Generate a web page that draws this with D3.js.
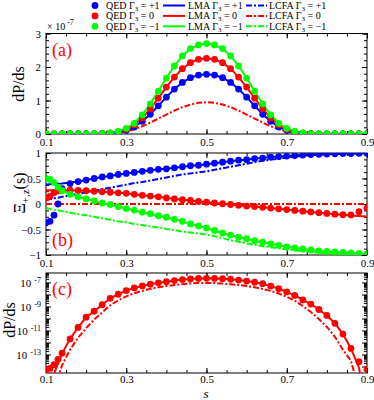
<!DOCTYPE html>
<html>
<head>
<meta charset="utf-8">
<script src="https://cdn.jsdelivr.net/npm/d3@7"></script>
<style>
body{margin:0;background:#fff}
svg{display:block}
svg text{font-family:"Liberation Serif","DejaVu Serif",serif !important}
</style>
</head>
<body>
<script>
// s values of the curve nodes (and of the QED samples in panel a)
const sVals = [0.10,0.12,0.14,0.16,0.18,0.20,0.22,0.24,0.26,0.28,0.30,0.32,0.34,0.36,0.38,0.40,0.42,0.44,0.46,0.48,0.50,
  0.52,0.54,0.56,0.58,0.60,0.62,0.64,0.66,0.68,0.70,0.72,0.74,0.76,0.78,0.80,0.82,0.84,0.86,0.88,0.90];
// QED samples in panels b and c are denser near s = 0.1
const qedS = [0.10,0.11,0.12,0.13,0.14,0.16,0.18,0.20,0.22,0.24,0.26,0.28,0.30,0.32,0.34,0.36,0.38,0.40,0.42,0.44,0.46,0.48,0.50,
  0.52,0.54,0.56,0.58,0.60,0.62,0.64,0.66,0.68,0.70,0.72,0.74,0.76,0.78,0.80,0.82,0.84,0.86,0.88,0.90];

// panel (a): dP/ds in units of 1e-7
const aBlue  = [0,0,0,0,0,0.001,0.003,0.009,0.022,0.051,0.11,0.21,0.38,0.59,0.84,1.10,1.34,1.54,1.68,1.76,1.78,
  1.76,1.68,1.54,1.34,1.10,0.84,0.59,0.38,0.21,0.11,0.051,0.022,0.009,0.003,0.001,0,0,0,0,0];
const aRed   = [0,0,0,0,0,0.001,0.004,0.011,0.028,0.065,0.14,0.27,0.48,0.75,1.07,1.40,1.70,1.95,2.13,2.23,2.26,
  2.23,2.13,1.95,1.70,1.40,1.07,0.75,0.48,0.27,0.14,0.065,0.028,0.011,0.004,0.001,0,0,0,0,0];
const aGreen = [0,0,0,0,0,0.001,0.005,0.013,0.033,0.078,0.17,0.32,0.57,0.90,1.28,1.67,2.03,2.33,2.55,2.66,2.70,
  2.66,2.55,2.33,2.03,1.67,1.28,0.90,0.57,0.32,0.17,0.078,0.033,0.013,0.005,0.001,0,0,0,0,0];
const aLcfa  = [0,0,0,0,0,0,0.001,0.004,0.013,0.035,0.075,0.14,0.23,0.34,0.46,0.58,0.70,0.80,0.88,0.93,0.95,
  0.93,0.88,0.80,0.70,0.58,0.46,0.34,0.23,0.14,0.075,0.035,0.013,0.004,0.001,0,0,0,0,0,0];

// panel (b): Xi_{+,z}(s); QED on qedS, LMA / LCFA on sVals
const bBlueQed = [-0.37,-0.34,-0.22,0.0,0.30,0.40,0.44,0.47,0.50,0.53,0.55,0.58,0.60,0.62,0.64,0.66,0.68,0.69,0.71,0.73,0.75,0.76,0.78,
  0.80,0.82,0.84,0.86,0.87,0.89,0.90,0.92,0.93,0.94,0.95,0.96,0.97,0.975,0.98,0.985,0.99,0.99,0.995,0.995];
const bBlueLma = [0.38,0.39,0.40,0.42,0.44,0.47,0.50,0.53,0.55,0.58,0.60,0.62,0.64,0.66,0.68,0.69,0.71,0.73,0.75,0.76,0.78,
  0.80,0.82,0.84,0.86,0.87,0.89,0.90,0.92,0.93,0.94,0.95,0.96,0.97,0.975,0.98,0.985,0.99,0.99,0.995,0.995];
const bBlueLcfa = [0.08,0.11,0.14,0.17,0.20,0.23,0.26,0.29,0.32,0.35,0.38,0.41,0.43,0.46,0.49,0.52,0.55,0.58,0.60,0.62,0.64,
  0.67,0.70,0.73,0.76,0.79,0.82,0.85,0.87,0.89,0.91,0.93,0.945,0.955,0.965,0.975,0.98,0.985,0.99,0.99,0.995];
const bRedQed = [0.12,0.15,0.22,0.26,0.27,0.27,0.265,0.26,0.25,0.24,0.23,0.22,0.21,0.19,0.17,0.155,0.14,0.12,0.10,0.085,0.07,0.05,0.035,
  0.02,0.005,-0.01,-0.025,-0.04,-0.05,-0.065,-0.08,-0.095,-0.11,-0.125,-0.14,-0.155,-0.17,-0.185,-0.20,-0.21,-0.215,-0.15,-0.08];
const bRedLma = [0.27,0.27,0.27,0.27,0.265,0.26,0.25,0.24,0.23,0.22,0.21,0.19,0.17,0.155,0.14,0.12,0.10,0.085,0.07,0.05,0.035,
  0.02,0.005,-0.01,-0.025,-0.04,-0.05,-0.065,-0.08,-0.095,-0.11,-0.125,-0.14,-0.155,-0.17,-0.185,-0.20,-0.21,-0.225,-0.235,-0.245];
const bRedLcfa = [0,0,0,0,0,0,0,0,0,0,0,0,0,0,0,0,0,0,0,0,0,0,0,0,0,0,0,0,0,0,0,0,0,0,0,0,0,0,0,0,0];
const bGreenQed = [0.50,0.48,0.42,0.33,0.26,0.19,0.14,0.10,0.06,0.02,-0.01,-0.05,-0.09,-0.12,-0.16,-0.19,-0.23,-0.26,-0.30,-0.34,-0.39,-0.43,-0.47,
  -0.52,-0.57,-0.61,-0.65,-0.68,-0.72,-0.75,-0.78,-0.81,-0.84,-0.86,-0.88,-0.90,-0.92,-0.93,-0.94,-0.95,-0.96,-0.97,-0.975];
const bGreenLma = [0.50,0.42,0.27,0.19,0.14,0.10,0.06,0.02,-0.01,-0.05,-0.09,-0.12,-0.16,-0.19,-0.23,-0.26,-0.30,-0.34,-0.39,-0.43,-0.47,
  -0.52,-0.57,-0.61,-0.65,-0.68,-0.72,-0.75,-0.78,-0.81,-0.84,-0.86,-0.88,-0.90,-0.92,-0.93,-0.94,-0.95,-0.96,-0.97,-0.975];
const bGreenLcfa = [-0.08,-0.11,-0.14,-0.17,-0.20,-0.22,-0.25,-0.28,-0.31,-0.34,-0.36,-0.39,-0.41,-0.44,-0.46,-0.49,-0.51,-0.54,-0.56,-0.58,-0.60,
  -0.63,-0.67,-0.71,-0.74,-0.77,-0.80,-0.83,-0.85,-0.87,-0.89,-0.91,-0.93,-0.945,-0.955,-0.965,-0.975,-0.98,-0.985,-0.99,-0.99];

// panel (c): dP/ds, Gamma_3 = 0, log scale; QED on qedS, LMA / LCFA on sVals
const cQed = [5e-15,7e-15,1.4e-14,4e-14,1.3e-13,2e-12,1.8e-11,1.3e-10,4e-10,1.4e-9,4.8e-9,1.05e-8,2.1e-8,3.5e-8,5.2e-8,7.2e-8,9.3e-8,1.17e-7,1.45e-7,1.74e-7,1.95e-7,2.14e-7,2.24e-7,
  2.19e-7,2.09e-7,1.86e-7,1.58e-7,1.32e-7,1.05e-7,7.9e-8,5e-8,3e-8,1.65e-8,8.3e-9,3.5e-9,1.6e-9,5.6e-10,1.8e-10,4e-11,5e-12,3.2e-13,2.5e-14,6e-15];
const cLma = [1e-18,2.5e-15,1.2e-13,2e-12,1.8e-11,1.3e-10,4e-10,1.4e-9,4.8e-9,1.05e-8,2.1e-8,3.5e-8,5.2e-8,7.2e-8,9.3e-8,1.17e-7,1.45e-7,1.74e-7,1.95e-7,2.14e-7,2.24e-7,
  2.19e-7,2.09e-7,1.86e-7,1.58e-7,1.32e-7,1.05e-7,7.9e-8,5e-8,3e-8,1.65e-8,8.3e-9,3.5e-9,1.6e-9,5.6e-10,1.8e-10,4e-11,5e-12,3.2e-13,8e-15,1e-18];
const cLcfa = [1e-19,1e-16,1.3e-14,2.5e-13,2.5e-12,1.6e-11,8e-11,3.2e-10,1.26e-9,3.2e-9,7e-9,1.26e-8,2e-8,2.95e-8,4e-8,5e-8,6.2e-8,7.2e-8,8.3e-8,8.9e-8,9.1e-8,
  8.9e-8,8.3e-8,7.2e-8,6.2e-8,5e-8,4e-8,2.9e-8,2e-8,1.2e-8,6.5e-9,3e-9,1.1e-9,3.5e-10,9e-11,2e-11,3e-12,2.5e-13,3e-14,1e-16,1e-19];

const xMajor = [0.1,0.3,0.5,0.7,0.9];
const aYTicks = [0,1,2,3];
const bYTicks = [-1,-0.5,0,0.5,1];
const cYDecades = [1e-14,1e-13,1e-12,1e-11,1e-10,1e-9,1e-8,1e-7];
const cYLabelled = [-13,-11,-9,-7];

const legendRows = [
  {col:"#0000ff", g:"+1"},
  {col:"#ff0000", g:"0"},
  {col:"#00ff00", g:"\u2212" + "1"}
];

const W = 374, H = 400;
const L = 46, R = 367;
const dashDot = "6,2,2,2";
const FONT = "Liberation Serif, DejaVu Serif, serif";

const svg = d3.select("body").append("svg").attr("width", W).attr("height", H)
  .attr("font-family", FONT);

const x = d3.scaleLinear().domain([0.1, 0.9]).range([L, R]);
const xMinor = d3.range(0.1, 0.9001, 0.05);

function pairs(ss, vals){ return ss.map((s, i) => [s, vals[i]]); }

function panel(top, bot, y, yMaj, yMin, yFmt, id, pad){
  const g = svg.append("g");
  g.append("defs").append("clipPath").attr("id", id)
    .append("rect").attr("x", L).attr("y", top).attr("width", R - L).attr("height", bot - top);

  // x axes, ticks inward
  g.append("g").attr("transform", "translate(0," + bot + ")")
    .call(d3.axisBottom(x).tickValues(xMajor).tickSize(-5).tickPadding(pad).tickFormat(d3.format(".1f")));
  g.append("g").attr("transform", "translate(0," + bot + ")")
    .call(d3.axisBottom(x).tickValues(xMinor).tickSize(-3).tickFormat(""));
  g.append("g").attr("transform", "translate(0," + top + ")")
    .call(d3.axisTop(x).tickValues(xMajor).tickSize(-5).tickFormat(""));
  g.append("g").attr("transform", "translate(0," + top + ")")
    .call(d3.axisTop(x).tickValues(xMinor).tickSize(-3).tickFormat(""));

  const gl = g.append("g").attr("transform", "translate(" + L + ",0)")
    .call(d3.axisLeft(y).tickValues(yMaj).tickSize(-5).tickPadding(5).tickFormat(yFmt));
  g.append("g").attr("transform", "translate(" + L + ",0)")
    .call(d3.axisLeft(y).tickValues(yMin).tickSize(-3).tickFormat(""));
  g.append("g").attr("transform", "translate(" + R + ",0)")
    .call(d3.axisRight(y).tickValues(yMaj).tickSize(-5).tickFormat(""));
  g.append("g").attr("transform", "translate(" + R + ",0)")
    .call(d3.axisRight(y).tickValues(yMin).tickSize(-3).tickFormat(""));

  g.selectAll(".domain").remove();
  g.selectAll("g").attr("font-family", FONT);
  g.selectAll(".tick line").attr("stroke", "#000");
  g.selectAll(".tick text").attr("font-size", 11).attr("fill", "#000");

  g.append("rect").attr("x", L).attr("y", top).attr("width", R - L).attr("height", bot - top)
    .attr("fill", "none").attr("stroke", "#000").attr("stroke-width", 1);

  const plot = g.append("g").attr("clip-path", "url(#" + id + ")");
  return {g: g, plot: plot, left: gl};
}

function drawLine(plot, y, vals, col, dash){
  const line = d3.line().x(d => x(d[0])).y(d => y(d[1]));
  plot.append("path").datum(pairs(sVals, vals)).attr("d", line)
    .attr("fill", "none").attr("stroke", col).attr("stroke-width", 2)
    .attr("stroke-dasharray", dash || null);
}

function drawDots(plot, y, ss, vals, col){
  plot.append("g").selectAll("circle").data(pairs(ss, vals)).enter().append("circle")
    .attr("cx", d => x(d[0])).attr("cy", d => y(d[1])).attr("r", 3.4).attr("fill", col);
}

// ---- panel (a)
const yA = d3.scaleLinear().domain([0, 3]).range([134, 33.5]);
const pa = panel(33.5, 134, yA, aYTicks, d3.range(0, 3.001, 0.2), d3.format("d"), "clipA", 4);
drawLine(pa.plot, yA, aLcfa, "#ff0000", dashDot);
drawLine(pa.plot, yA, aBlue, "#0000ff");
drawLine(pa.plot, yA, aRed, "#ff0000");
drawLine(pa.plot, yA, aGreen, "#00ff00");
drawDots(pa.plot, yA, sVals, aBlue, "#0000ff");
drawDots(pa.plot, yA, sVals, aRed, "#ff0000");
drawDots(pa.plot, yA, sVals, aGreen, "#00ff00");

// ---- panel (b)
const yB = d3.scaleLinear().domain([-1, 1]).range([255, 153]);
const pb = panel(153, 255, yB, bYTicks, d3.range(-1, 1.001, 0.125), d => d3.format("")(d), "clipB", 4);
drawLine(pb.plot, yB, bBlueLcfa, "#0000ff", dashDot);
drawLine(pb.plot, yB, bRedLcfa, "#ff0000", dashDot);
drawLine(pb.plot, yB, bGreenLcfa, "#00ff00", dashDot);
drawLine(pb.plot, yB, bBlueLma, "#0000ff");
drawLine(pb.plot, yB, bRedLma, "#ff0000");
drawLine(pb.plot, yB, bGreenLma, "#00ff00");
drawDots(pb.plot, yB, qedS, bBlueQed, "#0000ff");
drawDots(pb.plot, yB, qedS, bRedQed, "#ff0000");
drawDots(pb.plot, yB, qedS, bGreenQed, "#00ff00");

// ---- panel (c)
const yC = d3.scaleLog().domain([Math.pow(10, -14.54), Math.pow(10, -6.21)]).range([373, 273]);
const cMinor = [];
cYDecades.concat([1e-6]).forEach(dec => { for (let k = 2; k <= 9; k++) if (dec * k < Math.pow(10, -6.21)) cMinor.push(dec * k); });
const pc = panel(273, 373, yC, cYDecades, cMinor, () => "", "clipC", 2);
pc.left.selectAll(".tick text").each(function(d){
  const e = Math.round(Math.log10(d));
  if (cYLabelled.indexOf(e) < 0) return;
  const t = d3.select(this);
  t.text("10");
  t.append("tspan").attr("dx", 3).attr("dy", -4).attr("font-size", 8).text(String(e));
});
drawLine(pc.plot, yC, cLcfa, "#ff0000", dashDot);
drawLine(pc.plot, yC, cLma, "#ff0000");
drawDots(pc.plot, yC, qedS, cQed, "#ff0000");

// ---- axis titles
svg.append("text").attr("transform", "translate(24,84) rotate(-90)").attr("text-anchor", "middle")
  .attr("font-size", 16).text("dP/ds");
const xi = svg.append("text").attr("transform", "translate(25,193) rotate(-90)").attr("text-anchor", "middle")
  .attr("font-size", 16);
xi.append("tspan").text("\u039e");
xi.append("tspan").attr("font-size", 11).attr("dy", 4).text("+,z");
xi.append("tspan").attr("dy", -4).text("(s)");
svg.append("text").attr("transform", "translate(15,320) rotate(-90)").attr("text-anchor", "middle")
  .attr("font-size", 16).text("dP/ds");
svg.append("text").attr("x", 206).attr("y", 398).attr("text-anchor", "middle")
  .attr("font-size", 13).attr("font-style", "italic").text("s");

// panel tags
[["(a)", 56], ["(b)", 246], ["(c)", 295]].forEach(p => {
  svg.append("text").attr("x", 52).attr("y", p[1]).attr("font-size", 18).attr("fill", "#ff0000").text(p[0]);
});

// x10^-7
const mult = svg.append("text").attr("x", 47).attr("y", 30).attr("font-size", 10);
mult.append("tspan").text("\u00d7 10");
mult.append("tspan").attr("dx", 2).attr("dy", -5).attr("font-size", 8).text("-7");

// ---- legend
const leg = svg.append("g").attr("font-size", 10);
legendRows.forEach((r, i) => {
  const yy = 5.5 + i * 10.4;
  leg.append("circle").attr("cx", 95).attr("cy", yy).attr("r", 3.4).attr("fill", r.col);
  leg.append("line").attr("x1", 163).attr("x2", 185).attr("y1", yy).attr("y2", yy)
    .attr("stroke", r.col).attr("stroke-width", 2);
  leg.append("line").attr("x1", 246).attr("x2", 267).attr("y1", yy).attr("y2", yy)
    .attr("stroke", r.col).attr("stroke-width", 2).attr("stroke-dasharray", dashDot);
  [["QED", 106], ["LMA", 188], ["LCFA", 269]].forEach(c => {
    const t = leg.append("text").attr("x", c[1]).attr("y", yy + 3.3);
    t.append("tspan").text(c[0] + " \u0393");
    t.append("tspan").attr("font-size", 7).attr("dy", 2).text("3");
    t.append("tspan").attr("dy", -2).text(" = " + r.g);
  });
});
</script>
</body>
</html>
